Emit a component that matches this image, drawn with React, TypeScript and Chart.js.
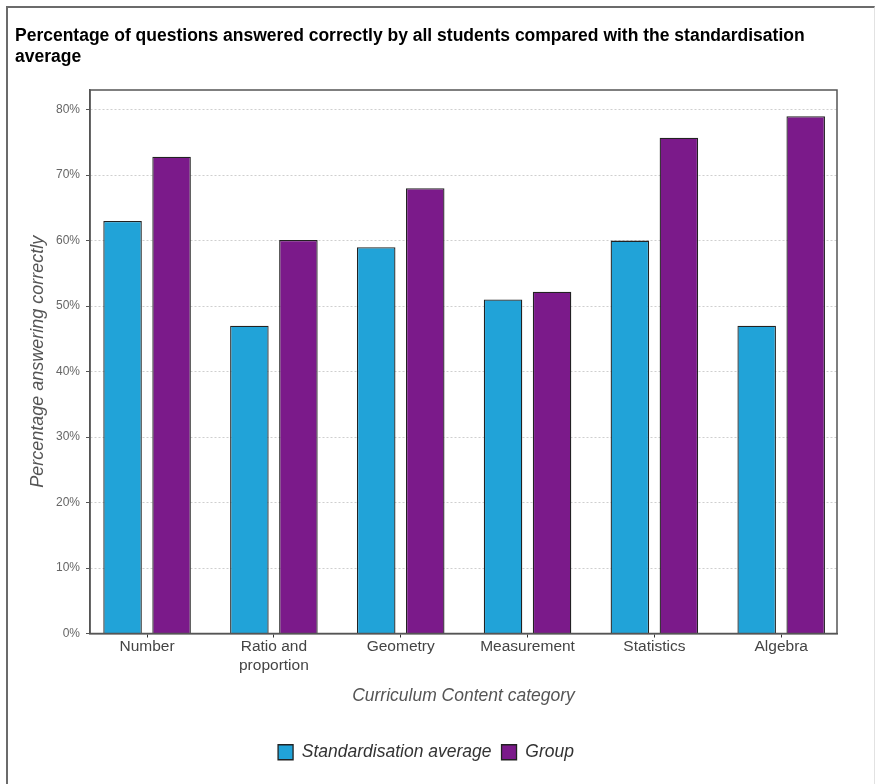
import React, { useEffect, useRef } from "react";
import { Chart, registerables } from "chart.js";

Chart.register(...registerables);

const categories: string[][] = [
  ["Number"],
  ["Ratio and", "proportion"],
  ["Geometry"],
  ["Measurement"],
  ["Statistics"],
  ["Algebra"],
];
const standardisationAverage = [63, 47, 59, 51, 60, 47];
const groupValues = [72.8, 60.1, 68, 52.2, 75.7, 79];
const yTickValues = [0, 10, 20, 30, 40, 50, 60, 70, 80];

const FONT = "'Liberation Sans', Arial, sans-serif";

const plotBorder = {
  id: "plotBorder",
  afterDatasetsDraw(chart: any) {
    const { ctx, chartArea } = chart;
    ctx.save();
    ctx.setLineDash([]);
    ctx.strokeStyle = "#555";
    ctx.lineWidth = 1.5;
    ctx.strokeRect(chartArea.left, chartArea.top, chartArea.right - chartArea.left, chartArea.bottom - chartArea.top);
    ctx.restore();
  },
};

export default function App() {
  const ref = useRef<HTMLCanvasElement | null>(null);

  useEffect(() => {
    if (!ref.current) return;
    const chart = new Chart(ref.current, {
      type: "bar",
      data: {
        datasets: [
          {
            label: "Standardisation average",
            data: standardisationAverage.map((v, i) => ({ x: i, y: v })),
            backgroundColor: "#21A3D8",
            borderColor: "#222",
            borderWidth: 1.3,
          },
          {
            label: "Group",
            data: groupValues.map((v, i) => ({ x: i, y: v })),
            backgroundColor: "#7B1A8A",
            borderColor: "#222",
            borderWidth: 1.3,
          },
        ],
      },
      options: {
        responsive: false,
        animation: false,
        devicePixelRatio: 1,
        layout: { padding: { left: 15, right: 38, top: 0, bottom: 13 } },
        datasets: { bar: { categoryPercentage: 0.773, barPercentage: 0.786 } },
        plugins: {
          tooltip: { enabled: false },
          title: {
            display: true,
            align: "start",
            text: [
              "Percentage of questions answered correctly by all students compared with the standardisation",
              "average",
            ],
            color: "#000",
            font: { family: FONT, size: 17.5, weight: "bold", lineHeight: 1.22 },
            padding: { top: 25, bottom: 22.3 },
          },
          legend: {
            position: "bottom",
            labels: {
              boxWidth: 15,
              boxHeight: 15,
              padding: 10,
              color: "#333",
              font: { family: FONT, size: 17.5, style: "italic" },
            },
          },
        },
        scales: {
          x: {
            type: "linear",
            offset: false,
            min: -0.45,
            max: 5.44,
            afterFit: (s: any) => {
              s.height = 100;
            },
            afterBuildTicks: (s: any) => {
              s.ticks = categories.map((_, i) => ({ value: i }));
            },
            ticks: {
              includeBounds: false,
              autoSkip: false,
              maxRotation: 0,
              padding: 0,
              color: "#444",
              font: { family: FONT, size: 15.5, lineHeight: 1.23 },
              callback: (v: any) => categories[v as number] ?? "",
            },
            grid: {
              offset: false,
              drawOnChartArea: false,
              drawTicks: true,
              tickLength: 4,
              tickColor: "#333",
            },
            border: { display: true, color: "#555", width: 1.5 },
            title: {
              display: true,
              text: "Curriculum Content category",
              color: "#555",
              font: { family: FONT, size: 17.5, style: "italic" },
              padding: { top: 0, bottom: 27 },
            },
          },
          y: {
            min: 0,
            max: 83,
            afterFit: (s: any) => {
              s.width = 75;
            },
            afterBuildTicks: (s: any) => {
              s.ticks = yTickValues.map((v) => ({ value: v }));
            },
            ticks: {
              padding: 6,
              color: "#666",
              font: { family: FONT, size: 12 },
              callback: (v: any) => v + "%",
            },
            grid: {
              color: "#cfcfcf",
              tickLength: 4,
              tickColor: "#555",
              tickBorderDash: [],
            },
            border: { display: true, color: "#555", width: 1.5, dash: [2, 2] },
            title: {
              display: true,
              text: "Percentage answering correctly",
              color: "#555",
              font: { family: FONT, size: 18, style: "italic" },
              padding: { top: 12, bottom: 0 },
            },
          },
        },
      },
      plugins: [plotBorder],
    } as any);
    return () => chart.destroy();
  }, []);

  return (
    <div style={{ position: "fixed", left: 0, top: 0, width: 875, height: 784, background: "#fff", overflow: "hidden" }}>
      <div
        style={{
          position: "absolute",
          left: 6,
          top: 6,
          width: 869,
          height: 800,
          borderLeft: "2px solid #6b6b6b",
          borderTop: "2px solid #6b6b6b",
          borderRight: "1px solid #e2e2e2",
          boxSizing: "border-box",
        }}
      />
      <canvas ref={ref} width={875} height={784} style={{ position: "absolute", left: 0, top: 0 }} />
    </div>
  );
}
